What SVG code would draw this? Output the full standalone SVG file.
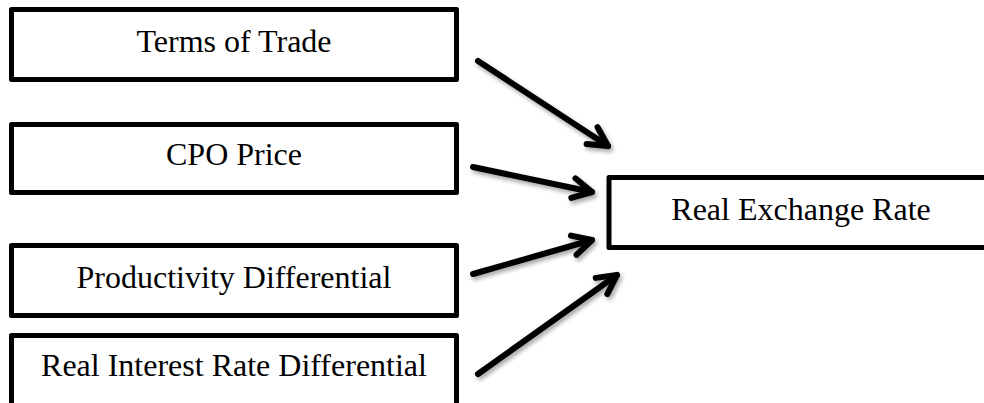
<svg xmlns="http://www.w3.org/2000/svg" width="984" height="403" viewBox="0 0 984 403">
  <style>
    .box { fill: #ffffff; stroke: #000000; stroke-width: 5; stroke-linejoin: round; }
    .lbl { font-family: "Liberation Serif", "Times New Roman", serif; font-size: 32px; fill: #000000; text-anchor: middle; }
    .arrow { fill: none; stroke: #000000; stroke-width: 6; stroke-linecap: round; stroke-linejoin: round; }
  </style>
  <defs>
    <marker id="head" markerUnits="userSpaceOnUse" viewBox="-30 -20 40 40" markerWidth="40" markerHeight="40" refX="0" refY="0" orient="auto" overflow="visible">
      <path d="M -19,-10 L 0,0 L -19,10" fill="none" stroke="#000000" stroke-width="6" stroke-linecap="round" stroke-linejoin="round"/>
    </marker>
    <filter id="shadow" x="-20%" y="-20%" width="140%" height="140%">
      <feDropShadow dx="2" dy="3" stdDeviation="2" flood-color="#000000" flood-opacity="0.35"/>
    </filter>
  </defs>
  <rect width="984" height="403" fill="#ffffff"/>

  <g id="terms-of-trade">
    <rect class="box" x="11.5" y="9.5" width="445" height="70"/>
    <text class="lbl" x="234" y="52">Terms of Trade</text>
  </g>
  <g id="cpo-price">
    <rect class="box" x="11.5" y="124.5" width="445" height="68"/>
    <text class="lbl" x="234" y="165">CPO Price</text>
  </g>
  <g id="productivity-differential">
    <rect class="box" x="11.5" y="245.5" width="445" height="70"/>
    <text class="lbl" x="234" y="288">Productivity Differential</text>
  </g>
  <g id="real-interest-rate-differential">
    <rect class="box" x="11.5" y="335.5" width="445" height="72"/>
    <text class="lbl" x="234" y="376">Real Interest Rate Differential</text>
  </g>
  <g id="real-exchange-rate">
    <rect class="box" x="609" y="177.5" width="400" height="70"/>
    <text class="lbl" x="801" y="220">Real Exchange Rate</text>
  </g>

  <g id="connectors" filter="url(#shadow)">
    <line class="arrow" x1="478" y1="61" x2="608" y2="146" marker-end="url(#head)"/>
    <line class="arrow" x1="473" y1="167" x2="592" y2="192" marker-end="url(#head)"/>
    <line class="arrow" x1="473" y1="274" x2="592" y2="240" marker-end="url(#head)"/>
    <line class="arrow" x1="478" y1="374" x2="617" y2="275" marker-end="url(#head)"/>
  </g>
</svg>
